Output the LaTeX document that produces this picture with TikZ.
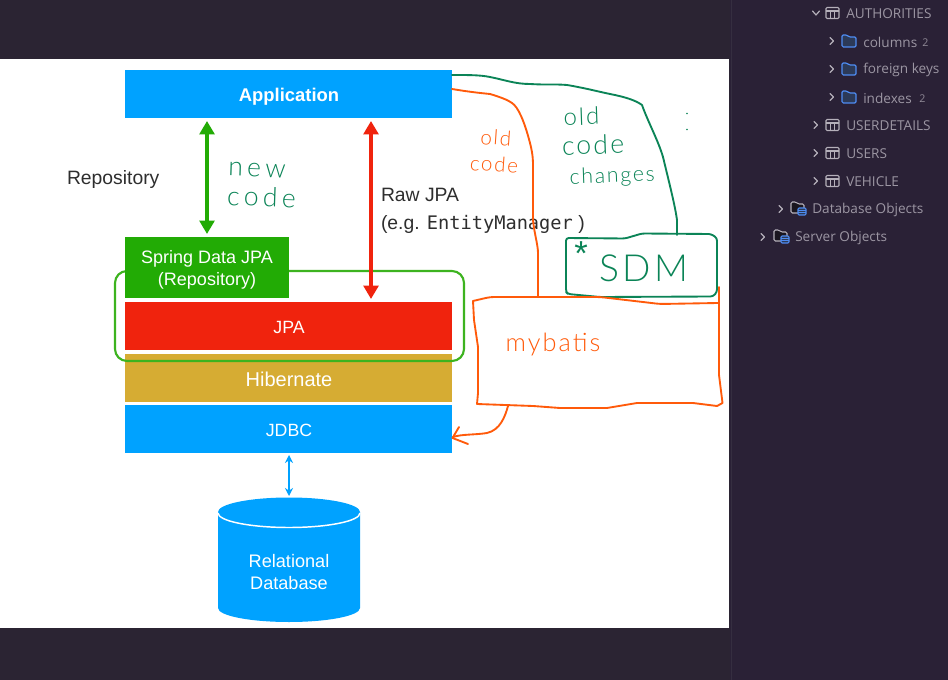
\documentclass[tikz,border=0pt]{standalone}
\usepackage{fontspec}
\setmainfont{Liberation Sans}
\newfontfamily\monof{DejaVu Sans Mono}
\newfontfamily\uif{Open Sans}
\newfontfamily\hand[LetterSpace=8]{Lato Light}
\newfontfamily\handwide[LetterSpace=16]{Lato Light}
\usetikzlibrary{arrows.meta,shapes.geometric}
\definecolor{bgdark}{HTML}{2B2433}
\definecolor{panel}{HTML}{2A2136}
\definecolor{panelline}{HTML}{352E40}
\definecolor{appblue}{HTML}{00A2FF}
\definecolor{sgreen}{HTML}{22AB05}
\definecolor{jred}{HTML}{F0230D}
\definecolor{gold}{HTML}{D6AC33}
\definecolor{boxgreen}{HTML}{3DB31F}
\definecolor{inkgreen}{HTML}{0B8457}
\definecolor{inkorange}{HTML}{FF5A0A}
\definecolor{uitext}{HTML}{9C96A3}
\definecolor{uicount}{HTML}{8F8996}
\definecolor{chev}{HTML}{B5B0BA}
\definecolor{foldfill}{HTML}{2C3A58}
\definecolor{foldline}{HTML}{4E8CF2}
\tikzset{
  x=0.75pt,y=-0.75pt,
  layer/.style={rectangle,inner sep=0pt,outer sep=0pt,minimum width=327*0.75pt,minimum height=48*0.75pt},
  layertext/.style={inner sep=0pt,outer sep=0pt,text=white,align=center},
  label/.style={inner sep=0pt,outer sep=0pt,text=black!82,font=\fontsize{14.5}{17}\selectfont,align=left},
  inkg/.style={draw=inkgreen,line width=1.4pt,line cap=round,line join=round},
  inko/.style={draw=inkorange,line width=1.4pt,line cap=round,line join=round},
  handg/.style={inner sep=0pt,text=inkgreen,align=left},
  hando/.style={inner sep=0pt,text=inkorange,align=center,font=\hand\fontsize{15.5}{20}\selectfont},
  ui/.style={anchor=west,inner sep=0pt,text=uitext,font=\uif\fontsize{10.2}{12}\selectfont},
  uinum/.style={anchor=west,inner sep=0pt,text=uicount,font=\uif\fontsize{8}{10}\selectfont},
  bigarrow/.style={line width=2.6pt,{Triangle[width=11pt,length=10pt]}-{Triangle[width=11pt,length=10pt]}},
}
\newcommand{\chevr}[2]{\draw[chev,line width=0.9pt,line cap=round,line join=round] (#1,#2-3.5) -- (#1+3.5,#2) -- (#1,#2+3.5);}
\newcommand{\chevd}[2]{\draw[chev,line width=0.9pt,line cap=round,line join=round] (#1-3.5,#2-2) -- (#1,#2+2) -- (#1+3.5,#2-2);}
\newcommand{\tblicon}[2]{\draw[chev,line width=0.8pt,rounded corners=0.8pt] (#1,#2-5.5) rectangle (#1+13,#2+5.5);
  \draw[chev,line width=0.8pt] (#1,#2-2) -- (#1+13,#2-2) (#1+4.4,#2-2) -- (#1+4.4,#2+5.5) (#1+8.7,#2-2) -- (#1+8.7,#2+5.5);}
\newcommand{\fldicon}[2]{\draw[foldline,fill=foldfill,line width=0.9pt,rounded corners=1pt] (#1,#2-6) -- (#1+5,#2-6) -- (#1+7,#2-4) -- (#1+14,#2-4) -- (#1+14,#2+6) -- (#1,#2+6) -- cycle;}
\newcommand{\grpicon}[2]{\draw[chev,fill=bgdark!60!black,line width=0.8pt,rounded corners=1pt] (#1,#2-6) -- (#1+5,#2-6) -- (#1+7,#2-4) -- (#1+13,#2-4) -- (#1+13,#2+5) -- (#1,#2+5) -- cycle;
  \draw[foldline,fill=foldfill,line width=0.8pt,rounded corners=0.8pt] (#1+7,#2) rectangle (#1+15,#2+7);
  \draw[foldline,line width=0.6pt] (#1+7,#2+2.4) -- (#1+15,#2+2.4) (#1+7,#2+4.7) -- (#1+15,#2+4.7);}
\begin{document}
\begin{tikzpicture}
\useasboundingbox (0,0) rectangle (948,680);
\fill[bgdark] (0,0) rectangle (948,680);
\fill[panel] (730,0) rectangle (948,680);
\draw[panelline,line width=0.75pt] (731,0) -- (731,680);
\fill[white] (0,59) rectangle (729,628);

% stack
\node[layer,fill=appblue] (app) at (288.5,94) {};
\node[layer,fill=gold] (hib) at (288.5,378) {};
\node[layer,fill=appblue] (jdbc) at (288.5,429) {};
\draw[boxgreen,line width=1.6pt,rounded corners=9pt] (115,271) rectangle (464,361);
\node[layer,fill=sgreen,minimum width=164*0.75pt,minimum height=61*0.75pt] (sdj) at (207,267.5) {};
\node[layer,fill=jred] (jpa) at (288.5,326) {};
\node[layertext,font=\fontsize{13.8}{18}\selectfont\bfseries] (appt) at (289,96.5) {Application};
\node[layertext,font=\fontsize{13.5}{16.5}\selectfont] (sdjt) at (207,269.5) {Spring Data JPA\\(Repository)};
\node[layertext,font=\fontsize{13.3}{16}\selectfont] (jpat) at (289,327) {JPA};
\node[layertext,font=\fontsize{15}{18}\selectfont] (hibt) at (289,379) {Hibernate};
\node[layertext,font=\fontsize{13.3}{16}\selectfont] (jdbct) at (289,430) {JDBC};

% database
\fill[appblue] (218,512) arc[start angle=180,end angle=360,x radius=71,y radius=14.5] -- (360,608) arc[start angle=0,end angle=180,x radius=71,y radius=14] -- cycle;
\draw[white,line width=1.1pt] (218,513) arc[start angle=180,end angle=0,x radius=71,y radius=14.5];
\node[layertext,font=\fontsize{13.6}{16.5}\selectfont] (db) at (289,572.5) {Relational\\Database};
\coordinate (dbtop) at (289,496);

% arrows
\coordinate (ga) at (207,121); \coordinate (gb) at (207,234);
\draw[bigarrow,sgreen] (ga) -- (gb);
\coordinate (ra) at (371,121); \coordinate (rb) at (371,299);
\draw[bigarrow,jred] (ra) -- (rb);
\draw[appblue,line width=0.9pt,{Stealth[width=6pt,length=6pt]}-{Stealth[width=6pt,length=6pt]}] (jdbc.south) ++(0.5,2) -- (dbtop);

% labels
\node[label,anchor=west] (repo) at (67,180) {Repository};
\node[label,anchor=north west] (raw) at (381,188) {Raw JPA};
\node[label,anchor=north west] (eg) at (381,215) {(e.g. {\monof\fontsize{14}{16}\selectfont EntityManager} )};

% handwriting connectors
\draw[inko] (app.east |- 0,89) .. controls (470,92) and (480,93) .. (490,94) .. controls (500,97) and (508,100) .. (512,103) .. controls (518,107) and (524,120) .. (530,143) .. controls (533,155) and (533,160) .. (533,167) -- (533,220) .. controls (534,232) and (538,245) .. (538,253) -- (538,297);
\draw[inkg] (app.east |- 0,75) .. controls (470,75) and (480,75) .. (490,77) .. controls (505,80) and (515,84) .. (530,84) .. controls (545,85) and (555,84) .. (567,85) .. controls (585,88) and (600,92) .. (610,94) .. controls (625,97) and (635,100) .. (642,105) .. controls (648,122) and (658,140) .. (663,157) .. controls (668,178) and (675,205) .. (677,220) -- (677,235);

% SDM box
\draw[inkg,rounded corners=2pt] (566,238) -- (566,292) -- (568,294) -- (600,297) -- (713,296.5) -- (717,292) -- (717,238) -- (711,234) -- (642,233.5) -- (625,238.5) -- cycle;
% mybatis box
\draw[inko,rounded corners=3pt] (473,301) -- (490,297) -- (600,297) -- (660,304) -- (718,303);
\draw[inko] (719,287) -- (719,375) -- (722.5,403) -- (717,406) -- (693,403) -- (637,403) -- (607,408) -- (560,408) -- (533,406) -- (477,404) -- (478,393) -- (478,347) -- (474,320) -- (473,301);
\coordinate (mb) at (508,406);
\draw[inko] (mb) .. controls (505,417) and (500,430) .. (487,433) .. controls (475,435) and (462,434) .. (453,437);
\draw[inko] (459,427) -- (452.5,438) -- (468,444);

% handwriting text
\node[handg,rotate=-2,font=\handwide\fontsize{20}{22}\selectfont] (newcode) at (262,185) {new\\code};
\node[handg,rotate=2,font=\hand\fontsize{18}{22}\selectfont,anchor=north west] (oldch) at (563,108) {old\\\hspace*{-2pt}{\fontsize{20}{22}\selectfont code}\\\hspace*{3pt}{\fontsize{16}{22}\selectfont changes}};
\node[hando,rotate=-4] (oldcode) at (495,151) {old\\code};
\node[inner sep=0pt,text=inkgreen,font=\hand\fontsize{28}{30}\selectfont] (sdm) at (644,268) {SDM};
\node[inner sep=0pt,text=inkorange,font=\hand\fontsize{19}{22}\selectfont] (myb) at (553,345) {mybatis};
\node[inner sep=0pt,text=inkgreen,font=\fontsize{26}{28}\selectfont] (star) at (581,254) {*};
\fill[inkgreen] (687,113.5) circle (0.9) (687,129.5) circle (0.9);

% panel tree
\chevd{816}{13} \tblicon{826}{13} \node[ui] (n1) at (846,14) {AUTHORITIES};
\chevr{830}{41} \fldicon{842}{41} \node[ui] (n2) at (863,42) {columns}; \node[uinum] (n2c) at (922,43) {2};
\chevr{830}{69} \fldicon{842}{69} \node[ui] (n3) at (863,70) {foreign keys};
\chevr{830}{97} \fldicon{842}{97} \node[ui] (n4) at (863,98) {indexes}; \node[uinum] (n4c) at (919,99) {2};
\chevr{814}{125} \tblicon{826}{125} \node[ui] (n5) at (846,126) {USERDETAILS};
\chevr{814}{153} \tblicon{826}{153} \node[ui] (n6) at (846,154) {USERS};
\chevr{814}{181} \tblicon{826}{181} \node[ui] (n7) at (846,182) {VEHICLE};
\chevr{779}{209} \grpicon{791}{208} \node[ui] (n8) at (812,210) {Database Objects};
\chevr{761}{237} \grpicon{774}{236} \node[ui] (n9) at (795,238) {Server Objects};
\end{tikzpicture}
\end{document}
